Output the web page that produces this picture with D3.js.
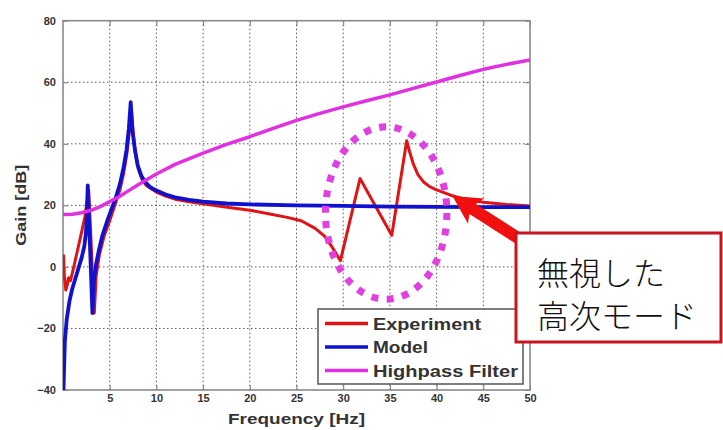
<!DOCTYPE html>
<html>
<head>
    <meta charset="utf-8">
    <script src="https://cdn.jsdelivr.net/npm/d3@7"></script>
    <style>
        body { margin: 0; background: #fff; }
        .tick text { font-family: "Liberation Sans", Arial, sans-serif; font-size: 11px; font-weight: bold; fill: #333; }
        .lbl { font-family: "Liberation Sans", Arial, sans-serif; font-weight: bold; fill: #333; }
    </style>
</head>
<body>
<div id="svg"></div>
<script>
    // tick labels
    var xTicks = [5, 10, 15, 20, 25, 30, 35, 40, 45, 50];
    var yTicks = [-40, -20, 0, 20, 40, 60, 80];

    // Experiment (red)
    var expFreq = [0.05, 0.15, 0.3, 0.45, 0.6, 0.8, 1.0, 1.3, 1.8, 2.35, 2.6, 2.75, 2.95, 3.15, 3.35, 3.55, 3.9, 4.4, 5.0, 5.6, 6.1, 6.5, 6.85, 7.1, 7.3, 7.5, 7.75, 8.05, 8.45, 8.9, 9.4, 10, 11, 12, 13.5, 15, 17, 20, 22, 24, 25.5, 27, 28, 28.8, 29.7, 31.8, 35.2, 36.8, 37.1, 37.5, 38, 38.6, 39.3, 40, 41.5, 43, 45, 47.5, 50];
    var expGain = [4, -3, -7.5, -6, -3.5, -4.5, -2, 2, 8.7, 16.3, 22, 25, 12, -2, -15, -3, 4, 10, 15, 20.5, 25, 30.5, 37, 44, 51, 44, 37, 32, 28.5, 26.5, 25.5, 24.3, 23, 22, 21.2, 20.5, 19.6, 18.4, 17.3, 16.1, 15, 12.5, 10, 6.5, 2, 28.7, 10.3, 41, 37.5, 33.5, 30, 27.6, 26, 25, 23.3, 22, 21, 20.3, 19.8];

    // Model (blue)
    var modFreq = [0.05, 0.2, 0.4, 0.7, 1.0, 1.3, 1.7, 2.0, 2.3, 2.45, 2.55, 2.65, 2.8, 2.95, 3.15, 3.3, 3.55, 3.85, 4.2, 4.8, 5.6, 6.1, 6.5, 6.8, 7.05, 7.25, 7.45, 7.7, 8.0, 8.4, 8.8, 9.3, 10, 11, 12, 13.5, 15, 17.5, 20, 25, 30, 35, 40, 45, 50];
    var modGain = [-40, -24, -17, -11, -7, -4, 0, 3, 7, 11, 16, 26.5, 14, 2, -15, -5, 1, 5.5, 10, 15.5, 22, 27, 32.5, 38, 45, 53.5, 44, 38, 33, 29.5, 27.6, 26, 24.8, 23.5, 22.6, 21.8, 21.2, 20.6, 20.3, 20, 19.8, 19.6, 19.5, 19.4, 19.4];

    // Highpass Filter (magenta)
    var hpFreq = [0, 1, 2, 3, 4, 5, 6, 7, 8, 9, 10, 12, 15, 17.5, 20, 22.5, 25, 27.5, 30, 32.5, 35, 37.5, 40, 42.5, 45, 47.5, 50];
    var hpGain = [17, 17.1, 17.6, 18.4, 19.6, 21.2, 22.8, 24.7, 26.6, 28.4, 30.2, 33.3, 37, 39.8, 42.3, 45, 47.6, 49.9, 52, 54, 55.9, 58, 60.1, 62.2, 64.2, 65.8, 67.2];

    var seriesNames = ["Experiment", "Model", "Highpass Filter"];
    var seriesColors = ["#e01414", "#1010d0", "#e030e0"];

    // ignored high-order modes: ellipse centre / radii in data units
    var ringCenter = [34.6, 17.5];
    var ringRadius = [6.5, 28];
    var arrowTip = [41.7, 23];
    var noteLines = ["無視した", "高次モード"];

    var W = 723, H = 430;
    var margin = { top: 20.7, right: 193, bottom: 40, left: 63 },
        width = W - margin.left - margin.right,
        height = H - margin.top - margin.bottom;

    var svg = d3.select("#svg").append("svg")
        .attr("width", W).attr("height", H);
    svg.append("rect").attr("width", W).attr("height", H).attr("fill", "#fff");

    var g = svg.append("g")
        .attr("transform", "translate(" + margin.left + "," + margin.top + ")");

    var x = d3.scaleLinear().domain([0, 50]).range([0, width]);
    var y = d3.scaleLinear().domain([-40, 80]).range([height, 0]);

    // dotted grid
    g.append("g").selectAll("line").data(xTicks.slice(0, -1)).enter().append("line")
        .attr("x1", function (d) { return x(d); }).attr("x2", function (d) { return x(d); })
        .attr("y1", 0).attr("y2", height)
        .attr("stroke", "#555").attr("stroke-width", 1).attr("stroke-dasharray", "1.5,2.5");
    g.append("g").selectAll("line").data(yTicks.slice(1, -1)).enter().append("line")
        .attr("y1", function (d) { return y(d); }).attr("y2", function (d) { return y(d); })
        .attr("x1", 0).attr("x2", width)
        .attr("stroke", "#555").attr("stroke-width", 1).attr("stroke-dasharray", "1.5,2.5");

    // axes with inward ticks
    var xAxis = g.append("g").attr("transform", "translate(0," + height + ")")
        .call(d3.axisBottom(x).tickValues(xTicks).tickSize(-5).tickPadding(4));
    var yAxis = g.append("g")
        .call(d3.axisLeft(y).tickValues(yTicks).tickSize(-5).tickPadding(7));
    var xTop = g.append("g")
        .call(d3.axisTop(x).tickValues(xTicks).tickSize(-5).tickFormat(""));
    var yRight = g.append("g").attr("transform", "translate(" + width + ",0)")
        .call(d3.axisRight(y).tickValues(yTicks).tickSize(-5).tickFormat(""));
    [xAxis, yAxis, xTop, yRight].forEach(function (a) {
        a.select(".domain").remove();
        a.selectAll(".tick line").attr("stroke", "#777");
    });

    g.append("rect").attr("width", width).attr("height", height)
        .attr("fill", "none").attr("stroke", "#8a8a8a").attr("stroke-width", 1.6);

    // curves
    g.append("clipPath").attr("id", "clip").append("rect")
        .attr("width", width).attr("height", height);

    var line = d3.line()
        .x(function (d) { return x(d[0]); })
        .y(function (d) { return y(d[1]); });

    var series = [
        d3.zip(expFreq, expGain),
        d3.zip(modFreq, modGain),
        d3.zip(hpFreq, hpGain)
    ];
    var widths = [3, 3.8, 3.5];

    g.append("g").attr("clip-path", "url(#clip)")
        .selectAll("path").data(series).enter().append("path")
        .attr("d", line)
        .attr("fill", "none")
        .attr("stroke", function (d, i) { return seriesColors[i]; })
        .attr("stroke-width", function (d, i) { return widths[i]; })
        .attr("stroke-linejoin", "round");

    // dotted ring
    g.append("ellipse")
        .attr("cx", x(ringCenter[0])).attr("cy", y(ringCenter[1]))
        .attr("rx", x(ringRadius[0]) - x(0)).attr("ry", y(0) - y(ringRadius[1]))
        .attr("fill", "none").attr("stroke", "#e040e0")
        .attr("stroke-width", 7).attr("stroke-dasharray", "7,8.5");

    // axis titles
    svg.append("text").attr("class", "lbl")
        .attr("x", margin.left + width / 2).attr("y", 424)
        .attr("text-anchor", "middle").style("font-size", "14px")
        .attr("textLength", 137).attr("lengthAdjust", "spacingAndGlyphs")
        .text("Frequency [Hz]");
    svg.append("text").attr("class", "lbl")
        .attr("transform", "translate(26," + (margin.top + height / 2) + ") rotate(-90)")
        .attr("text-anchor", "middle").style("font-size", "14px")
        .attr("textLength", 81).attr("lengthAdjust", "spacingAndGlyphs")
        .text("Gain [dB]");

    // legend
    var leg = svg.append("g").attr("transform", "translate(318,309)");
    leg.append("rect").attr("width", 205).attr("height", 75)
        .attr("fill", "#fff").attr("stroke", "#555").attr("stroke-width", 1.5);
    var legLen = [108, 55, 145];
    seriesNames.forEach(function (name, i) {
        var cy = 14.5 + i * 23.5;
        leg.append("line").attr("x1", 7).attr("x2", 50).attr("y1", cy).attr("y2", cy)
            .attr("stroke", seriesColors[i]).attr("stroke-width", 3.5);
        leg.append("text").attr("class", "lbl").attr("x", 55).attr("y", cy + 6)
            .style("font-size", "16px")
            .attr("textLength", legLen[i]).attr("lengthAdjust", "spacingAndGlyphs")
            .text(name);
    });

    // arrow pointing at the ignored modes
    var tip = [margin.left + x(arrowTip[0]), margin.top + y(arrowTip[1])];
    var tail = [518, 238];
    var dx = tail[0] - tip[0], dy = tail[1] - tip[1], len = Math.sqrt(dx * dx + dy * dy);
    var ux = dx / len, uy = dy / len, px = -uy, py = ux;
    var headL = 28, headW = 15, shaftW = 6;
    var pts = [
        tip,
        [tip[0] + ux * headL + px * headW, tip[1] + uy * headL + py * headW],
        [tip[0] + ux * (headL - 4) + px * shaftW, tip[1] + uy * (headL - 4) + py * shaftW],
        [tail[0] + px * shaftW, tail[1] + py * shaftW],
        [tail[0] - px * shaftW, tail[1] - py * shaftW],
        [tip[0] + ux * (headL - 4) - px * shaftW, tip[1] + uy * (headL - 4) - py * shaftW],
        [tip[0] + ux * headL - px * headW, tip[1] + uy * headL - py * headW]
    ];
    svg.append("polygon").attr("points", pts.map(function (p) { return p.join(","); }).join(" "))
        .attr("fill", "#f01010");

    // note box
    svg.append("rect").attr("x", 516).attr("y", 233).attr("width", 205).attr("height", 109)
        .attr("fill", "#fff").attr("stroke", "#c8141e").attr("stroke-width", 3);
    noteLines.forEach(function (t, i) {
        svg.append("text").attr("x", 537).attr("y", 285 + i * 43)
            .style("font-family", "'Noto Sans CJK JP', sans-serif")
            .style("font-weight", 300).style("font-size", "32px").attr("fill", "#111")
            .text(t);
    });
</script>
</body>
</html>
